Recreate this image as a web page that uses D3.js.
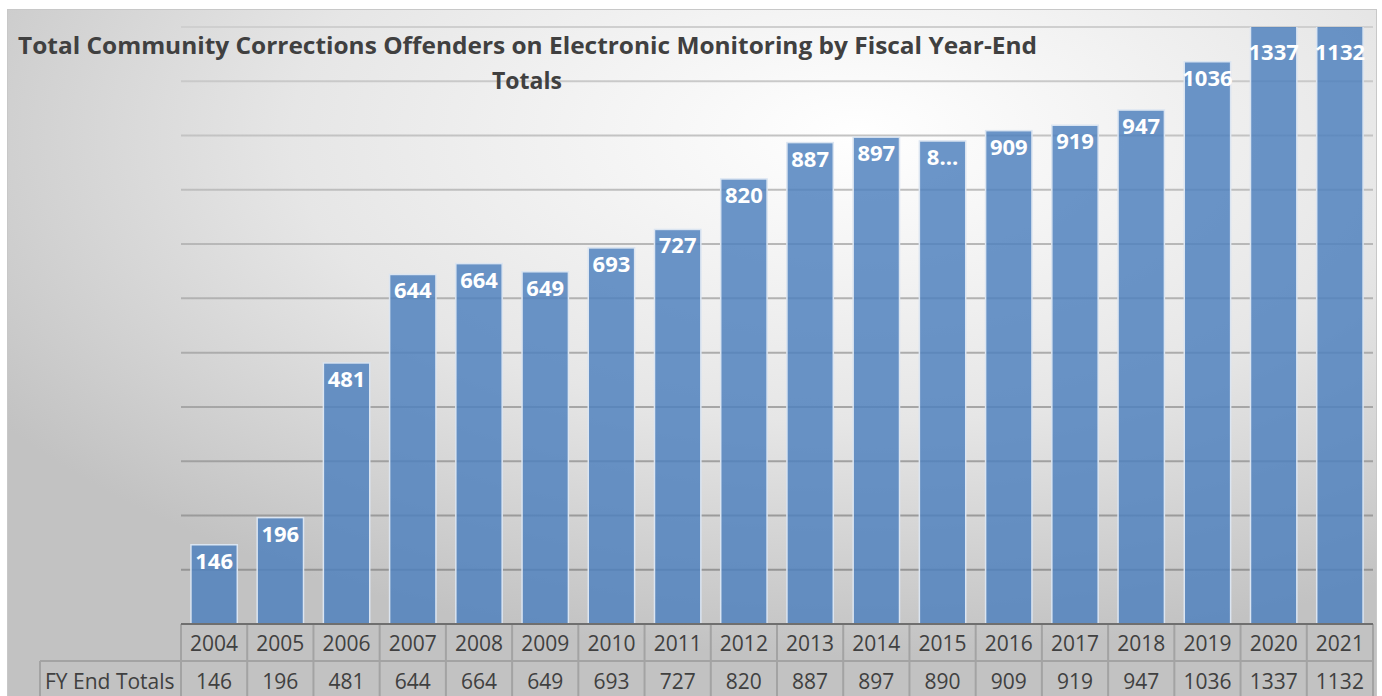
<!DOCTYPE html>
<html>
<head>
<meta charset="utf-8">
<script src="https://cdn.jsdelivr.net/npm/d3@7"></script>
<style>
  body { margin: 0; background: #ffffff; }
  svg { display: block; }
</style>
</head>
<body>
<div id="container"></div>
<script>
/* CONSTANTS AND GLOBALS */
const width = 1382,
    height = 696,
    margin = { top: 27, bottom: 72, left: 181, right: 9 };

// DATA
const years = ["2004", "2005", "2006", "2007", "2008", "2009", "2010", "2011", "2012",
    "2013", "2014", "2015", "2016", "2017", "2018", "2019", "2020", "2021"];
const totals = [146, 196, 481, 644, 664, 649, 693, 727, 820, 887, 897, 890, 909, 919, 947, 1036, 1337, 1132];
const barLabels = ["146", "196", "481", "644", "664", "649", "693", "727", "820", "887", "897", "8...",
    "909", "919", "947", "1036", "1337", "1132"];
const yTicks = [100, 200, 300, 400, 500, 600, 700, 800, 900, 1000, 1100];
const seriesName = "FY End Totals";
const titleLines = ["Total Community Corrections Offenders on Electronic Monitoring by Fiscal Year-End", "Totals"];

const data = years.map((y, i) => ({ year: y, value: totals[i], label: barLabels[i] }));

//SCALES
const xScale = d3.scaleBand()
    .domain(years)
    .range([margin.left, width - margin.right])
    .paddingInner(0.3)
    .paddingOuter(0.15)

const colScale = d3.scaleBand()
    .domain(years)
    .range([margin.left, width - margin.right])

const yScale = d3.scaleLinear()
    .domain([0, 1100])
    .range([height - margin.bottom, margin.top])

/*HTML Elements */
const svg = d3.select("#container")
    .append("svg")
    .attr("width", width)
    .attr("height", height)

const defs = svg.append("defs")

// background gradient, light near top centre, grey on the edges
const bg = defs.append("radialGradient")
    .attr("id", "bg-grad")
    .attr("cx", "62%").attr("cy", "18%").attr("r", "75%")
bg.append("stop").attr("offset", "0%").attr("stop-color", "#ffffff")
bg.append("stop").attr("offset", "55%").attr("stop-color", "#e6e6e6")
bg.append("stop").attr("offset", "100%").attr("stop-color", "#c2c2c2")

// gridlines get darker towards the bottom
const gridGrad = defs.append("linearGradient")
    .attr("id", "grid-grad")
    .attr("gradientUnits", "userSpaceOnUse")
    .attr("x1", 0).attr("y1", margin.top).attr("x2", 0).attr("y2", height - margin.bottom)
gridGrad.append("stop").attr("offset", "0%").attr("stop-color", "#cfcfcf")
gridGrad.append("stop").attr("offset", "100%").attr("stop-color", "#8f8f8f")

defs.append("clipPath")
    .attr("id", "plot-clip")
    .append("rect")
    .attr("x", margin.left)
    .attr("y", margin.top)
    .attr("width", width - margin.left - margin.right)
    .attr("height", height - margin.top - margin.bottom)

//CHART AREA BACKGROUND
svg.append("rect")
    .attr("x", 7.5)
    .attr("y", 9.5)
    .attr("width", width - 7 - 6)
    .attr("height", height)
    .attr("fill", "url(#bg-grad)")
    .attr("stroke", "#c8c8c8")

//GRIDLINES
svg.append("g")
    .attr("class", "grid")
    .selectAll("line")
    .data(yTicks)
    .join("line")
    .attr("x1", margin.left)
    .attr("x2", width - margin.right)
    .attr("y1", d => yScale(d))
    .attr("y2", d => yScale(d))
    .attr("stroke", "url(#grid-grad)")
    .attr("stroke-width", 2)

//BARS
svg.append("g")
    .attr("clip-path", "url(#plot-clip)")
    .selectAll("rect")
    .data(data)
    .join("rect")
    .attr("x", d => xScale(d.year))
    .attr("y", d => yScale(d.value))
    .attr("width", xScale.bandwidth())
    .attr("height", d => yScale(0) - yScale(d.value))
    .attr("fill", "#4f81bd")
    .attr("fill-opacity", 0.84)
    .attr("stroke", "#dbe5f1")
    .attr("stroke-width", 1.5)

//BAR LABELS
// bars that run past the top get their label pushed a bit lower, like excel does
svg.append("g")
    .selectAll("text")
    .data(data)
    .join("text")
    .attr("x", d => xScale(d.year) + xScale.bandwidth() / 2)
    .attr("y", d => yScale(d.value) < margin.top ? margin.top + 33 : yScale(d.value) + 24)
    .attr("text-anchor", "middle")
    .attr("fill", "#ffffff")
    .style("font-family", "'Open Sans', sans-serif")
    .style("font-weight", "bold")
    .style("font-size", "22px")
    .text(d => d.label)

//TITLE
svg.append("text")
    .attr("x", 18)
    .attr("y", 54)
    .attr("textLength", 1019)
    .attr("lengthAdjust", "spacingAndGlyphs")
    .attr("fill", "#404040")
    .style("font-family", "'Open Sans', sans-serif")
    .style("font-weight", "bold")
    .style("font-size", "24px")
    .text(titleLines[0])

svg.append("text")
    .attr("x", 527)
    .attr("y", 89)
    .attr("text-anchor", "middle")
    .attr("fill", "#404040")
    .style("font-family", "'Open Sans', sans-serif")
    .style("font-weight", "bold")
    .style("font-size", "23px")
    .text(titleLines[1])

//DATA TABLE
const rowTop = yScale(0),
    rowH = 37,
    labelLeft = 40,
    tableColor = "#a3a3a3"
const table = svg.append("g").attr("class", "table")

// vertical cell borders
table.selectAll("line.col")
    .data(years.concat(["end"]))
    .join("line")
    .attr("class", "col")
    .attr("x1", d => d === "end" ? width - margin.right : colScale(d))
    .attr("x2", d => d === "end" ? width - margin.right : colScale(d))
    .attr("y1", rowTop)
    .attr("y2", rowTop + rowH * 2 + 2)
    .attr("stroke", tableColor)
    .attr("stroke-width", 2)

table.append("line")
    .attr("x1", labelLeft).attr("x2", labelLeft)
    .attr("y1", rowTop + rowH).attr("y2", rowTop + rowH * 2 + 2)
    .attr("stroke", tableColor)
    .attr("stroke-width", 2)

table.append("line")
    .attr("x1", labelLeft).attr("x2", width - margin.right)
    .attr("y1", rowTop + rowH).attr("y2", rowTop + rowH)
    .attr("stroke", tableColor)
    .attr("stroke-width", 2)

// x axis line on top of the table
table.append("line")
    .attr("x1", margin.left).attr("x2", width - margin.right)
    .attr("y1", rowTop).attr("y2", rowTop)
    .attr("stroke", "#6f6f6f")
    .attr("stroke-width", 2)

// year row
table.selectAll("text.year")
    .data(years)
    .join("text")
    .attr("class", "year")
    .attr("x", d => colScale(d) + colScale.bandwidth() / 2)
    .attr("y", rowTop + 27)
    .attr("text-anchor", "middle")
    .attr("fill", "#404040")
    .style("font-family", "'Open Sans', sans-serif")
    .style("font-size", "21px")
    .text(d => d)

// values row
table.selectAll("text.val")
    .data(data)
    .join("text")
    .attr("class", "val")
    .attr("x", d => colScale(d.year) + colScale.bandwidth() / 2)
    .attr("y", rowTop + rowH + 28)
    .attr("text-anchor", "middle")
    .attr("fill", "#404040")
    .style("font-family", "'Open Sans', sans-serif")
    .style("font-size", "21px")
    .text(d => d.value)

table.append("text")
    .attr("x", labelLeft + 5)
    .attr("y", rowTop + rowH + 28)
    .attr("fill", "#404040")
    .style("font-family", "'Open Sans', sans-serif")
    .style("font-size", "21px")
    .text(seriesName)
</script>
</body>
</html>
